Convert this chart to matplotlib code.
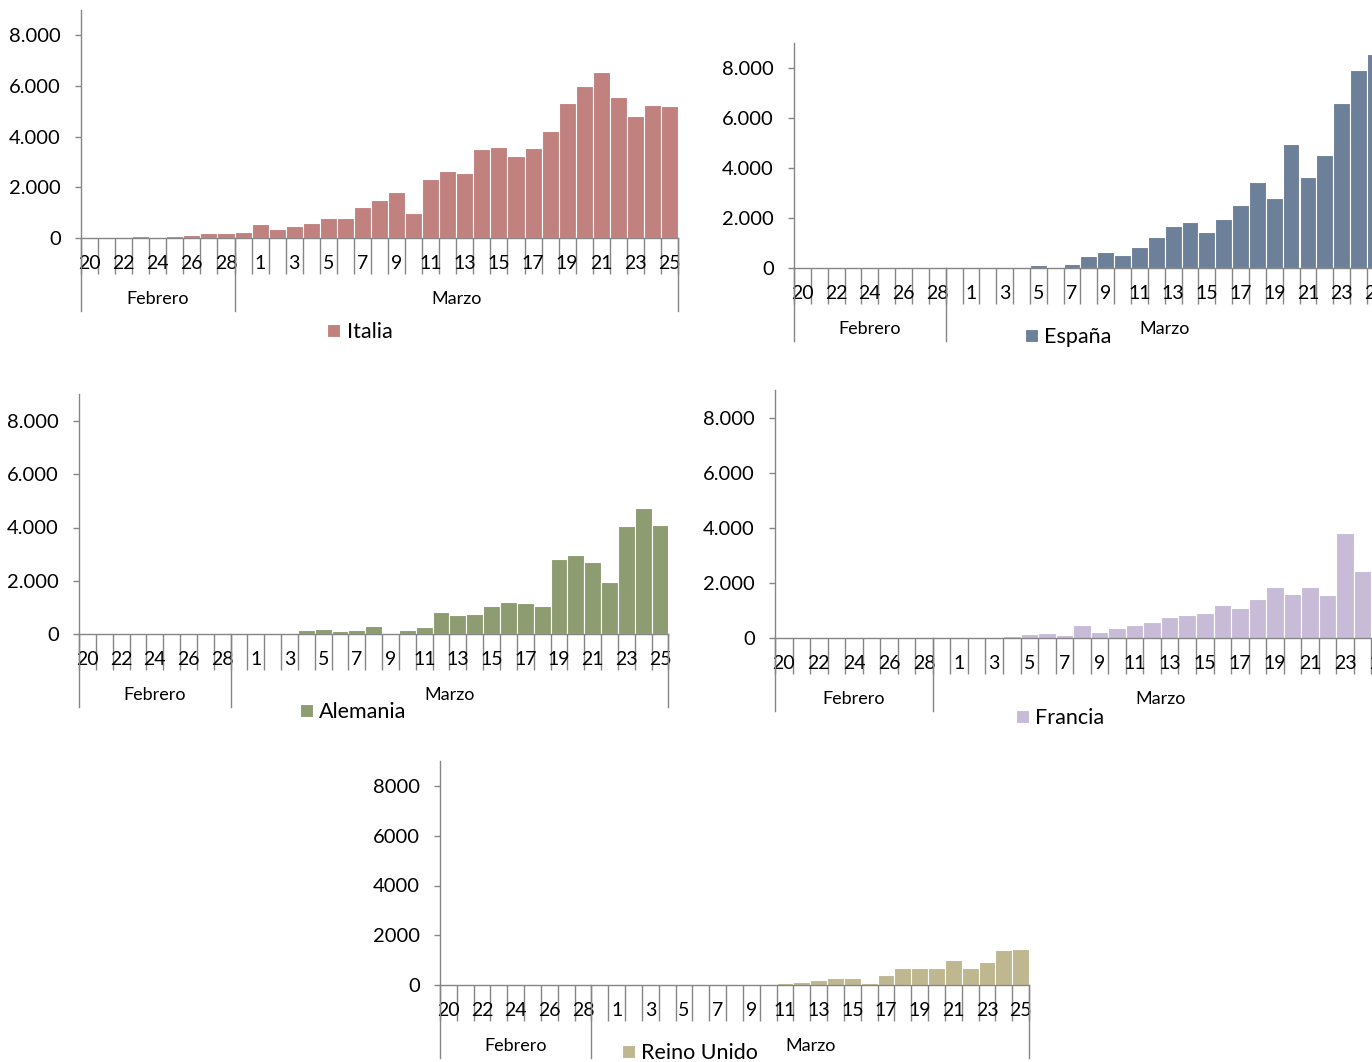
import matplotlib.pyplot as plt
import numpy as np
from matplotlib import font_manager

# fuente: estrecha si existe (parecida a Calibri del original)
instaladas = {f.name for f in font_manager.fontManager.ttflist}
fuente = 'Liberation Sans Narrow' if 'Liberation Sans Narrow' in instaladas else 'Lato'
plt.rcParams['font.family'] = [fuente, 'DejaVu Sans']

# días: 20-29 de febrero y 1-25 de marzo
dias = [str(d) for d in range(20, 30)] + [str(d) for d in range(1, 26)]
etiquetas_dias = [d if i % 2 == 0 else '' for i, d in enumerate(dias)]
meses = ['Febrero', 'Marzo']

# nuevos casos diarios
italia = [0, 3, 17, 76, 50, 80, 115, 185, 215, 235,
          560, 340, 470, 590, 770, 770, 1240, 1490, 1800, 980,
          2310, 2650, 2550, 3500, 3590, 3230, 3530, 4210, 5320, 5990,
          6560, 5560, 4790, 5250, 5210]
espana = [0, 0, 0, 0, 0, 0, 0, 0, 0, 0,
          30, 10, 30, 30, 130, 20, 150, 470, 630, 510,
          830, 1260, 1690, 1860, 1430, 1980, 2540, 3425, 2820, 4950,
          3650, 4520, 6590, 7930, 8580]
alemania = [0, 0, 0, 0, 0, 0, 0, 0, 0, 0,
            25, 5, 5, 150, 190, 110, 160, 310, 20, 160,
            275, 810, 700, 740, 1050, 1190, 1150, 1050, 2800, 2960,
            2700, 1950, 4050, 4750, 4110]
francia = [0, 0, 0, 0, 0, 0, 0, 0, 0, 0,
           5, 50, 20, 60, 135, 180, 100, 470, 220, 365,
           485, 580, 775, 835, 910, 1200, 1090, 1405, 1855, 1610,
           1840, 1550, 3830, 2440, 2900]
reino_unido = [0, 0, 0, 0, 0, 0, 0, 0, 0, 0,
               0, 0, 0, 0, 0, 0, 0, 55, 30, 30,
               70, 120, 200, 295, 295, 80, 400, 700, 700, 700,
               990, 685, 940, 1410, 1435]

yticks = [0, 2000, 4000, 6000, 8000]
ylab_punto = ['0', '2.000', '4.000', '6.000', '8.000']
ylab_simple = ['0', '2000', '4000', '6000', '8000']

W, H = 1372, 1062
fig = plt.figure(figsize=(W / 100, H / 100), dpi=100)
gris = '#868686'

# (nombre, datos, color, izquierda px, cero px, px por 8000, ancho barra px, leyenda x,y px, etiquetas y)
paneles = [
    ('Italia', italia, '#C0817F', 81, 238, 203, 17.06, (360, 332), ylab_punto),
    ('España', espana, '#6D8099', 794, 268, 200, 16.85, (1068, 337), ylab_punto),
    ('Alemania', alemania, '#8E9C71', 79, 634, 213, 16.84, (353, 712), ylab_punto),
    ('Francia', francia, '#C8BBD8', 775, 638, 220, 17.54, (1060, 718), ylab_punto),
    ('Reino Unido', reino_unido, '#BFB78F', 440, 985, 199, 16.83, (690, 1053), ylab_simple),
]

x = np.arange(len(dias)) + 0.5

for nombre, datos, color, izq, cero, px8000, wbar, (lx, ly), ylab in paneles:
    alto = 9000 * px8000 / 8000
    ancho = wbar * len(dias)
    ax = fig.add_axes([izq / W, 1 - cero / H, ancho / W, alto / H])
    barras = ax.bar(x, datos, width=1.0, color=color, edgecolor='white',
                    linewidth=0.8, label=nombre)
    ax.set_xlim(0, len(dias))
    ax.set_ylim(0, 9000)

    for s in ['top', 'right']:
        ax.spines[s].set_visible(False)
    for s in ['left', 'bottom']:
        ax.spines[s].set_color(gris)
        ax.spines[s].set_linewidth(1.0)

    ax.set_yticks(yticks)
    ax.set_yticklabels(ylab)
    ax.tick_params(axis='y', length=4.5, width=1, color=gris, pad=10,
                   labelsize=14.5)

    # marcas largas entre categorías y etiquetas en el centro de las barras
    ax.set_xticks(np.arange(len(dias) + 1))
    ax.set_xticklabels([])
    ax.tick_params(axis='x', which='major', length=26, width=1, color=gris)
    ax.set_xticks(x, minor=True)
    ax.set_xticklabels(etiquetas_dias, minor=True)
    ax.tick_params(axis='x', which='minor', length=0, pad=12.5, labelsize=14)

    # líneas de grupo de meses
    fondo = -73 / alto
    for xs in [0, 9, len(dias)]:
        ax.plot([xs, xs], [0, fondo], transform=ax.get_xaxis_transform(),
                color=gris, lw=1, clip_on=False)
    ax.text(4.5, -61 / alto, meses[0], transform=ax.get_xaxis_transform(),
            ha='center', va='center', fontsize=13)
    ax.text((9 + len(dias)) / 2, -61 / alto, meses[1],
            transform=ax.get_xaxis_transform(), ha='center', va='center',
            fontsize=13)

    ax.legend(handles=[barras], loc='center', bbox_to_anchor=(lx / W, 1 - ly / H),
              bbox_transform=fig.transFigure, frameon=False, fontsize=15.5,
              handlelength=0.6, handleheight=0.6, handletextpad=0.3,
              borderpad=0, borderaxespad=0)

fig.savefig('out.png', dpi=100)
